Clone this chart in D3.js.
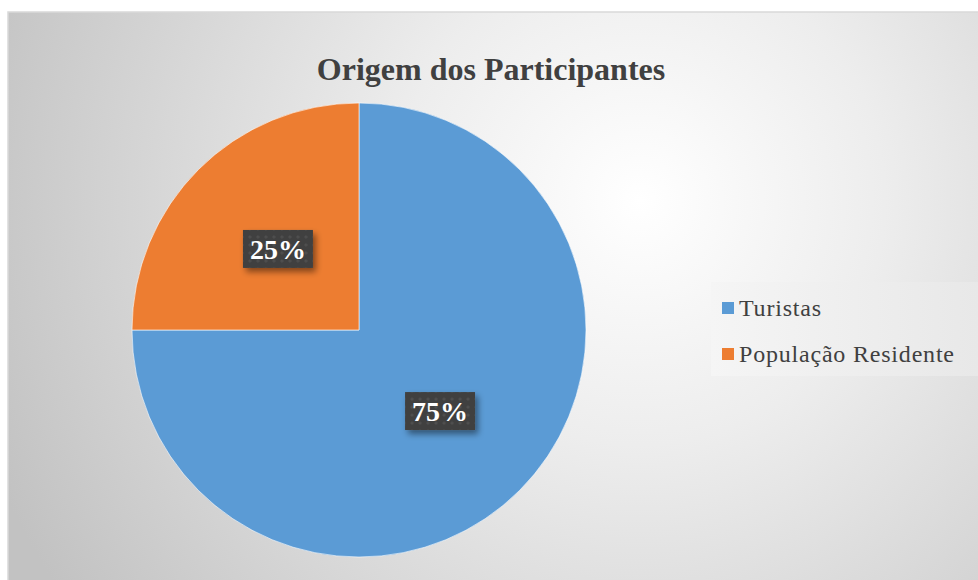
<!DOCTYPE html>
<html>
<head>
<meta charset="UTF-8" />
<title>Origem dos Participantes</title>
<script src="https://d3js.org/d3.v7.min.js"></script>
<style>
body { margin: 0; background: #fff; }
svg { display: block; }
text { font-family: "Times New Roman", "Liberation Serif", Tinos, Times, serif; }
</style>
</head>
<body>
<div id="chart"></div>
<script>
// data
var categories = ["Turistas", "População Residente"];
var values = [75, 25];
var colors = ["#5B9BD5", "#ED7D31"];
var title = "Origem dos Participantes";

var W = 978, H = 580;
var svg = d3.select("#chart").append("svg")
  .attr("width", W).attr("height", H);

var defs = svg.append("defs");

// chart area background, radial gradient white -> grey
var bg = defs.append("radialGradient")
  .attr("id", "bg")
  .attr("gradientUnits", "userSpaceOnUse")
  .attr("cx", 640).attr("cy", 200).attr("r", 700);
bg.append("stop").attr("offset", "0%").attr("stop-color", "#ffffff");
bg.append("stop").attr("offset", "35%").attr("stop-color", "#ededed");
bg.append("stop").attr("offset", "100%").attr("stop-color", "#c2c2c2");

var lg = defs.append("linearGradient")
  .attr("id", "legbg").attr("x1", 0).attr("x2", 1).attr("y1", 0).attr("y2", 0);
lg.append("stop").attr("offset", "0%").attr("stop-color", "#f5f5f5");
lg.append("stop").attr("offset", "100%").attr("stop-color", "#e8e8e8");

// dotted pattern for label boxes
var pat = defs.append("pattern")
  .attr("id", "dots").attr("patternUnits", "userSpaceOnUse")
  .attr("width", 8).attr("height", 8);
pat.append("rect").attr("width", 8).attr("height", 8).attr("fill", "#404040");
pat.append("circle").attr("cx", 4).attr("cy", 4).attr("r", 1.6).attr("fill", "#4f4f4f");

var sh = defs.append("filter").attr("id", "shadow")
  .attr("x", "-30%").attr("y", "-30%").attr("width", "160%").attr("height", "180%");
sh.append("feDropShadow").attr("dx", 3).attr("dy", 4).attr("stdDeviation", 3)
  .attr("flood-color", "#000").attr("flood-opacity", 0.45);

svg.append("rect")
  .attr("x", 8).attr("y", 12).attr("width", W + 20).attr("height", H + 20)
  .attr("fill", "url(#bg)")
  .attr("stroke", "#d9d9d9").attr("stroke-width", 1.5);

svg.append("text")
  .attr("x", 491).attr("y", 80)
  .attr("text-anchor", "middle")
  .attr("font-size", 32).attr("font-weight", "bold")
  .attr("fill", "#404040")
  .text(title);

// pie
var cx = 359, cy = 330, r = 227;
var pie = d3.pie().sort(null).value(function(d) { return d; });
var arc = d3.arc().innerRadius(0).outerRadius(r);
var arcs = pie(values);

var g = svg.append("g").attr("transform", "translate(" + cx + "," + cy + ")");
g.selectAll("path.slice")
  .data(arcs).enter().append("path")
  .attr("class", "slice")
  .attr("d", arc)
  .attr("fill", function(d, i) { return colors[i]; })
  .attr("stroke", "#ffffff").attr("stroke-width", 0.6);

// labels
var labelArc = d3.arc().innerRadius(r * 0.505).outerRadius(r * 0.505);
var lab = g.selectAll("g.lab")
  .data(arcs).enter().append("g")
  .attr("class", "lab")
  .attr("transform", function(d) {
    var c = labelArc.centroid(d);
    return "translate(" + c[0] + "," + c[1] + ")";
  });
lab.append("rect")
  .attr("x", -35).attr("y", -19).attr("width", 70).attr("height", 38)
  .attr("fill", "url(#dots)")
  .attr("filter", "url(#shadow)");
lab.append("text")
  .attr("text-anchor", "middle").attr("dy", "0.35em")
  .attr("font-size", 28).attr("font-weight", "bold")
  .attr("fill", "#ffffff")
  .text(function(d) { return d.data + "%"; });

// legend
svg.append("rect")
  .attr("x", 711).attr("y", 282).attr("width", 267).attr("height", 94)
  .attr("fill", "url(#legbg)");
var leg = svg.selectAll("g.leg")
  .data(categories).enter().append("g")
  .attr("class", "leg")
  .attr("transform", function(d, i) { return "translate(722," + (302 + i * 46) + ")"; });
leg.append("rect")
  .attr("width", 12).attr("height", 12)
  .attr("fill", function(d, i) { return colors[i]; });
leg.append("text")
  .attr("x", 17).attr("y", 14)
  .attr("font-size", 24).attr("letter-spacing", 0.8).attr("fill", "#404040")
  .text(function(d) { return d; });
</script>
</body>
</html>
